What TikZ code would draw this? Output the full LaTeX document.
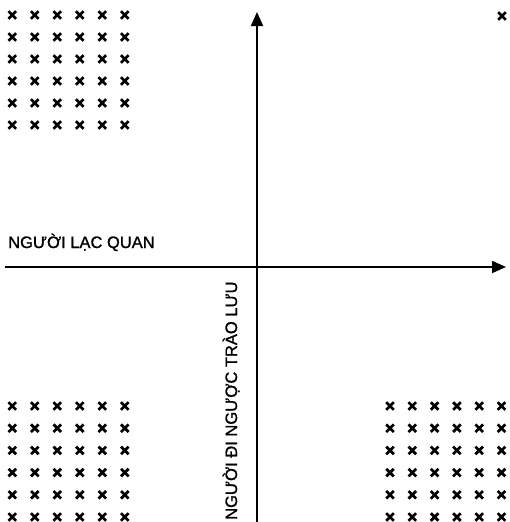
\documentclass[tikz,border=0pt]{standalone}
\usepackage{fontspec}
\setmainfont[FakeBold=1.2]{Liberation Sans}
\usetikzlibrary{arrows.meta}
\tikzset{
  axisline/.style={line width=1.8pt, -{Triangle[length=14pt,width=12pt]}},
  xmark/.pic={\draw[line width=2.7pt] (-3.8,-3.8) -- (3.8,3.8) (-3.8,3.8) -- (3.8,-3.8);},
  axislabel/.style={font=\fontsize{16.5}{16.5}\selectfont, inner sep=0pt}
}

\begin{document}
\begin{tikzpicture}[x=1pt, y=-1pt]
  \useasboundingbox (0,0) rectangle (509,522);
  % Axes
  \coordinate (left)   at (5,267);
  \coordinate (right)  at (506,267);
  \coordinate (bottom) at (257,522);
  \coordinate (top)    at (257,12);
  \draw[axisline] (left) -- (right);
  \draw[axisline] (bottom) -- (top);
  % Labels axes
  \node[axislabel, anchor=base west] (optimist) at (8,248) {NGƯỜI LẠC QUAN};
  \node[axislabel, anchor=base west, rotate=90] (contrarian) at (237,520) {NGƯỜI ĐI NGƯỢC TRÀO LƯU};
  % Crosses
  \foreach \i in {0,...,5}
    \foreach \j in {0,...,5} {
      \pic at ({12.3+22.5*\i},{15+22*\j}) {xmark};
      \pic at ({12.3+22.5*\i},{406+22.2*\j}) {xmark};
      \pic at ({390+22.3*\i},{406+22.2*\j}) {xmark};
    }
  \pic at (502,16) {xmark};
\end{tikzpicture}
\end{document}
